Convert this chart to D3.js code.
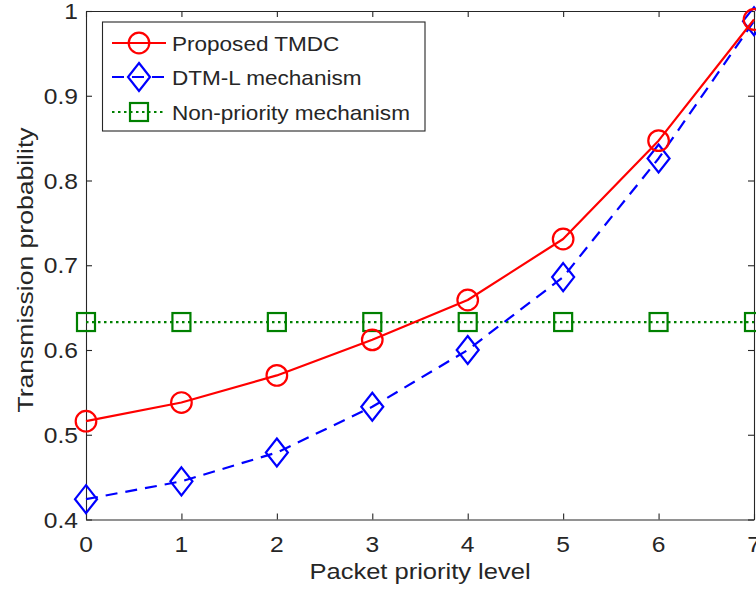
<!DOCTYPE html>
<html>
<head>
<meta charset="utf-8">
<script src="https://cdn.jsdelivr.net/npm/d3@7"></script>
<style>
  html, body { margin: 0; padding: 0; background: #fff; }
  svg { display: block; }
  text { font-family: "Liberation Sans", Arial, Helvetica, sans-serif; fill: #262626; }
</style>
</head>
<body>
<svg id="chart" width="756" height="590"></svg>
<script>
// Priority levels on the x axis
const levels = [0, 1, 2, 3, 4, 5, 6, 7];
// Transmission probability per scheme
const proposedTMDC = [0.516, 0.538, 0.570, 0.612, 0.659, 0.731, 0.847, 0.990];
const dtmL = [0.424, 0.445, 0.479, 0.533, 0.600, 0.686, 0.826, 0.988];
const nonPriority = [0.633, 0.633, 0.633, 0.633, 0.633, 0.633, 0.633, 0.633];
// Axis ticks
const xTicks = [0, 1, 2, 3, 4, 5, 6, 7];
const yTicks = [0.4, 0.5, 0.6, 0.7, 0.8, 0.9, 1.0];
const yTickLabels = ["0.4", "0.5", "0.6", "0.7", "0.8", "0.9", "1"];
const seriesNames = ["Proposed TMDC", "DTM-L mechanism", "Non-priority mechanism"];

const svg = d3.select("#chart");
const axisColor = "#262626";
const plotLeft = 86, plotRight = 754, plotTop = 11, plotBottom = 519.5;

const x = d3.scaleLinear().domain([0, 7]).range([plotLeft, plotRight]);
const y = d3.scaleLinear().domain([0.4, 1]).range([plotBottom, plotTop]);

// Text helper: glyphs widened along the reading direction
function label(g, tx, ty, str, size, anchor, rotate, sx) {
  return g.append("text")
    .attr("transform", `translate(${tx},${ty}) rotate(${rotate || 0}) scale(${sx},1)`)
    .attr("font-size", size)
    .attr("text-anchor", anchor)
    .text(str);
}

// Axes box with inward ticks on all four sides
const axes = svg.append("g");
function styleAxis(g) {
  g.selectAll("path.domain").attr("stroke", axisColor).attr("stroke-width", 1.1);
  g.selectAll(".tick line").attr("stroke", axisColor).attr("stroke-width", 1.1);
  g.selectAll(".tick text").remove();
}
axes.append("g").attr("transform", `translate(0,${plotBottom})`)
  .call(d3.axisBottom(x).tickValues(xTicks).tickSizeInner(-6).tickSizeOuter(0).tickFormat(""))
  .call(styleAxis);
axes.append("g").attr("transform", `translate(0,${plotTop})`)
  .call(d3.axisTop(x).tickValues(xTicks).tickSizeInner(-6).tickSizeOuter(0).tickFormat(""))
  .call(styleAxis);
axes.append("g").attr("transform", `translate(${plotLeft},0)`)
  .call(d3.axisLeft(y).tickValues(yTicks).tickSizeInner(-6).tickSizeOuter(0).tickFormat(""))
  .call(styleAxis);
axes.append("g").attr("transform", `translate(${plotRight},0)`)
  .call(d3.axisRight(y).tickValues(yTicks).tickSizeInner(-6).tickSizeOuter(0).tickFormat(""))
  .call(styleAxis);

// Tick labels
const labels = svg.append("g");
xTicks.forEach(v => label(labels, x(v), plotBottom + 32, String(v), 22, "middle", 0, 1.12));
yTicks.forEach((v, i) => label(labels, plotLeft - 8, y(v) + 8, yTickLabels[i], 22, "end", 0, 1.12));

// Axis titles
label(labels, (plotLeft + plotRight) / 2, 579, "Packet priority level", 22, "middle", 0, 1.16);
label(labels, 33, 270, "Transmission probability", 22.5, "middle", -90, 1.18);

// Marker shapes
function drawMarker(g, kind, cx, cy, color) {
  if (kind === "circle") {
    g.append("circle").attr("cx", cx).attr("cy", cy).attr("r", 10.3)
      .attr("fill", "none").attr("stroke", color).attr("stroke-width", 2.2);
  } else if (kind === "diamond") {
    g.append("path")
      .attr("d", `M${cx},${cy - 14}L${cx + 11},${cy}L${cx},${cy + 14}L${cx - 11},${cy}Z`)
      .attr("fill", "none").attr("stroke", color).attr("stroke-width", 2.2);
  } else {
    g.append("rect").attr("x", cx - 9).attr("y", cy - 9).attr("width", 18).attr("height", 18)
      .attr("fill", "none").attr("stroke", color).attr("stroke-width", 2.2);
  }
}

const series = [
  { name: seriesNames[0], values: proposedTMDC, color: "#ff0000", dash: null, marker: "circle" },
  { name: seriesNames[1], values: dtmL, color: "#0000ff", dash: "12,8", marker: "diamond" },
  { name: seriesNames[2], values: nonPriority, color: "#008000", dash: "2.5,3.5", marker: "square" }
];

const line = d3.line().x((d, i) => x(levels[i])).y(d => y(d));
const plot = svg.append("g");
series.slice().reverse().forEach(s => {
  const g = plot.append("g");
  g.append("path").datum(s.values).attr("d", line)
    .attr("fill", "none").attr("stroke", s.color).attr("stroke-width", 2.2)
    .attr("stroke-linejoin", "round")
    .attr("stroke-dasharray", s.dash);
  s.values.forEach((v, i) => drawMarker(g, s.marker, x(levels[i]), y(v), s.color));
});

// Legend
const legend = svg.append("g");
legend.append("rect").attr("x", 102.5).attr("y", 22).attr("width", 322.5).attr("height", 109)
  .attr("fill", "#fff").attr("stroke", axisColor).attr("stroke-width", 1.1);
const rowY = [43, 77, 112];
series.forEach((s, i) => {
  const g = legend.append("g");
  g.append("line").attr("x1", 112).attr("x2", 166).attr("y1", rowY[i]).attr("y2", rowY[i])
    .attr("stroke", s.color).attr("stroke-width", 2.2).attr("stroke-dasharray", s.dash);
  drawMarker(g, s.marker, 139, rowY[i], s.color);
  label(g, 172, rowY[i] + 7.5, s.name, 20.5, "start", 0, 1.1);
});
</script>
</body>
</html>
